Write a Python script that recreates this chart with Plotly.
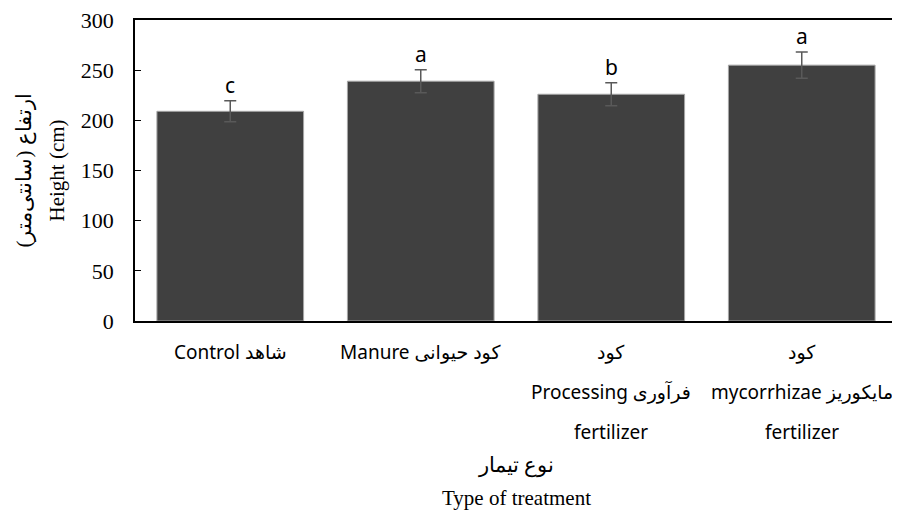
import plotly.graph_objects as go

categories = ["Control", "Manure", "Processing", "Mycorrhizae"]
heights = [209, 239, 226, 255]
errors = [10.5, 11.5, 11.5, 13]
letters = ["c", "a", "b", "a"]
label_line1 = ["Control شاهد", "Manure کود حیوانی", "کود", "کود"]
label_line2 = ["", "", "Processing فرآوری", "mycorrhizae مایکوریز"]
label_line3 = ["", "", "fertilizer", "fertilizer"]
y_ticks = [0, 50, 100, 150, 200, 250, 300]
x_title_lines = ["نوع تیمار", "Type of treatment"]
y_title_lines = ["ارتفاع (سانتی‌متر)", "Height (cm)"]

fig = go.Figure()
fig.add_trace(go.Bar(
    x=categories, y=heights,
    marker=dict(color="#404040", line=dict(color="#a6a6a6", width=1)),
    error_y=dict(type="data", array=errors, visible=True, color="#595959", thickness=1.5, width=6),
    width=0.77,
))

ann = []
for c, h, e, l in zip(categories, heights, errors, letters):
    ann.append(dict(x=c, y=h + e, xref="x", yref="y", text=l, showarrow=False,
                    yanchor="bottom", yshift=0, font=dict(family="Noto Sans", size=21, color="#000")))
label_font = dict(family="Noto Sans, DejaVu Sans", size=19, color="#000")
for lines, ypix in ((label_line1, 31), (label_line2, 71), (label_line3, 111)):
    for c, t in zip(categories, lines):
        if t:
            ann.append(dict(x=c, y=0, xref="x", yref="paper", text=t, showarrow=False,
                            yanchor="middle", yshift=-ypix, font=label_font))
for t, ypix in zip(x_title_lines, (144, 177)):
    ann.append(dict(x=0.5, y=0, xref="paper", yref="paper", text=t, showarrow=False,
                    yanchor="middle", yshift=-ypix,
                    font=dict(family="Liberation Serif, DejaVu Serif", size=21, color="#000")))
for t, xpix in zip(y_title_lines, (-111, -79)):
    ann.append(dict(x=0, y=0.5, xref="paper", yref="paper", text=t, showarrow=False,
                    xanchor="center", xshift=xpix, textangle=-90,
                    font=dict(family="Liberation Serif, DejaVu Serif", size=21, color="#000")))

fig.update_layout(
    width=892, height=517,
    margin=dict(l=127, r=3, t=12, b=204),
    plot_bgcolor="white", paper_bgcolor="white",
    showlegend=False,
    bargap=0.23,
    annotations=ann,
    xaxis=dict(showticklabels=False, showline=True, linecolor="black", linewidth=1.5,
               mirror=True, ticks="", showgrid=False, automargin=False),
    yaxis=dict(range=[0, 300], tickvals=y_ticks, showline=True, linecolor="black", linewidth=1.5,
               mirror=True, ticks="inside", ticklen=6, tickcolor="black", showgrid=False,
               zeroline=False, ticklabelstandoff=15, automargin=False, ticklabeloverflow="allow",
               tickfont=dict(family="Liberation Serif, DejaVu Serif", size=22, color="#000")),
)
fig.write_html("out.html")
